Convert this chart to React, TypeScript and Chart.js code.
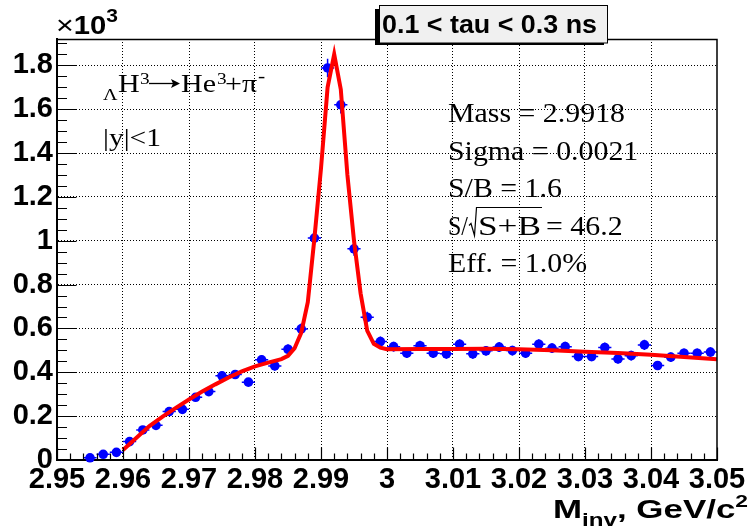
import React, { useEffect, useRef } from 'react';
import { Chart, registerables } from 'chart.js';

Chart.register(...registerables);

// Bin centres (GeV/c^2) and counts (x10^3)
const binCenters = [
  2.955, 2.957, 2.959, 2.961, 2.963, 2.965, 2.967, 2.969, 2.971, 2.973,
  2.975, 2.977, 2.979, 2.981, 2.983, 2.985, 2.987, 2.989, 2.991, 2.993,
  2.995, 2.997, 2.999, 3.001, 3.003, 3.005, 3.007, 3.009, 3.011, 3.013,
  3.015, 3.017, 3.019, 3.021, 3.023, 3.025, 3.027, 3.029, 3.031, 3.033,
  3.035, 3.037, 3.039, 3.041, 3.043, 3.045, 3.047, 3.049,
];
const counts = [
  0.010, 0.026, 0.035, 0.084, 0.137, 0.158, 0.221, 0.231, 0.286, 0.312,
  0.384, 0.390, 0.355, 0.457, 0.429, 0.505, 0.598, 1.012, 1.788, 1.620,
  0.963, 0.651, 0.540, 0.517, 0.487, 0.521, 0.487, 0.484, 0.528, 0.484,
  0.498, 0.515, 0.499, 0.487, 0.528, 0.510, 0.517, 0.472, 0.472, 0.513,
  0.461, 0.476, 0.525, 0.431, 0.469, 0.487, 0.487, 0.492,
];

// Fit curve
const fitX = [
  2.960, 2.962, 2.964, 2.966, 2.968, 2.970, 2.972, 2.974, 2.976, 2.978,
  2.980, 2.982, 2.984, 2.985, 2.986, 2.987, 2.988, 2.989, 2.990, 2.991,
  2.992, 2.993, 2.994, 2.995, 2.996, 2.997, 2.998, 2.999, 3.000, 3.005,
  3.010, 3.015, 3.020, 3.025, 3.030, 3.035, 3.040, 3.045, 3.050,
];
const fitY = [
  0.046, 0.100, 0.155, 0.198, 0.238, 0.276, 0.312, 0.345, 0.376, 0.404,
  0.427, 0.444, 0.460, 0.475, 0.510, 0.580, 0.720, 1.010, 1.330, 1.700,
  1.850, 1.690, 1.300, 1.000, 0.760, 0.590, 0.530, 0.512, 0.505, 0.506,
  0.506, 0.507, 0.505, 0.500, 0.494, 0.488, 0.480, 0.470, 0.460,
];

const xTickValues = [2.95, 2.96, 2.97, 2.98, 2.99, 3.0, 3.01, 3.02, 3.03, 3.04, 3.05];
const xTickLabels = ['2.95', '2.96', '2.97', '2.98', '2.99', '3', '3.01', '3.02', '3.03', '3.04', '3.05'];
const yTickValues = [0, 0.2, 0.4, 0.6, 0.8, 1.0, 1.2, 1.4, 1.6, 1.8];
const yTickLabels = ['0', '0.2', '0.4', '0.6', '0.8', '1', '1.2', '1.4', '1.6', '1.8'];

const titleText = '0.1 < tau < 0.3 ns';
const statsLines = ['Mass = 2.9918', 'Sigma = 0.0021', 'S/B = 1.6', 'S/\u221AS+B = 46.2', 'Eff. = 1.0%'];
const rangeText = '|y|<1';

const X_MIN = 2.95;
const X_MAX = 3.05;
const Y_MIN = 0;
const Y_MAX = 1.92;

const SANS = '"Liberation Sans", Arial, Helvetica, sans-serif';
const SERIF = '"Liberation Serif", "Times New Roman", serif';

function drawStretched(ctx: CanvasRenderingContext2D, text: string, x: number, y: number, font: string, sx: number) {
  ctx.save();
  ctx.font = font;
  ctx.textAlign = 'left';
  ctx.textBaseline = 'alphabetic';
  ctx.translate(x, y);
  ctx.scale(sx, 1);
  ctx.fillText(text, 0, 0);
  ctx.restore();
  ctx.font = font;
  return ctx.measureText(text).width * sx;
}

const errorBarsPlugin = {
  id: 'errorBars',
  beforeDatasetsDraw(chart: any) {
    const { ctx } = chart;
    const xs = chart.scales.x;
    const ys = chart.scales.y;
    ctx.save();
    ctx.strokeStyle = '#0000ff';
    ctx.lineWidth = 1.5;
    binCenters.forEach((c, i) => {
      const v = counts[i];
      const err = Math.sqrt(v * 1000) / 1000;
      const px = xs.getPixelForValue(c);
      const py = ys.getPixelForValue(v);
      ctx.beginPath();
      ctx.moveTo(xs.getPixelForValue(c - 0.001), py);
      ctx.lineTo(xs.getPixelForValue(c + 0.001), py);
      ctx.moveTo(px, ys.getPixelForValue(Math.max(v - err, 0)));
      ctx.lineTo(px, ys.getPixelForValue(v + err));
      ctx.stroke();
    });
    ctx.restore();
  },
};

const decorPlugin = {
  id: 'decor',
  afterDraw(chart: any) {
    const { ctx, chartArea } = chart;
    const { left, right, top, bottom } = chartArea;
    const xs = chart.scales.x;
    const ys = chart.scales.y;
    ctx.save();

    // frame top & right
    ctx.strokeStyle = '#000';
    ctx.lineWidth = 1.5;
    ctx.beginPath();
    ctx.moveTo(left, top + 0.5);
    ctx.lineTo(right, top + 0.5);
    ctx.lineTo(right, bottom);
    ctx.stroke();

    // inner ticks x
    ctx.lineWidth = 1.2;
    ctx.beginPath();
    for (let i = 0; i <= 50; i++) {
      const v = X_MIN + i * 0.002;
      const px = Math.round(xs.getPixelForValue(v)) + 0.5;
      const len = i % 5 === 0 ? 12.5 : 6.5;
      ctx.moveTo(px, bottom);
      ctx.lineTo(px, bottom - len);
    }
    // inner ticks y
    for (let j = 0; j <= 38; j++) {
      const v = j * 0.05;
      const py = Math.round(ys.getPixelForValue(v)) + 0.5;
      const len = j % 4 === 0 ? 19.5 : 10;
      ctx.moveTo(left, py);
      ctx.lineTo(left + len, py);
    }
    ctx.stroke();

    // x10^3
    ctx.fillStyle = '#000';
    {
      const parts = [
        { t: '\u00D7', f: `26px ${SANS}`, dy: 0 },
        { t: '10', f: `bold 25px ${SANS}`, dy: 0 },
        { t: '3', f: `bold 18px ${SANS}`, dy: -12 },
      ];
      let tw = 0;
      parts.forEach((p) => { ctx.font = p.f; tw += ctx.measureText(p.t).width; });
      const sx = 62 / tw;
      let x = 56;
      parts.forEach((p) => { x += drawStretched(ctx, p.t, x, 34 + p.dy, p.f, sx); });
    }

    // axis title
    {
      const parts = [
        { t: 'M', f: `bold 26px ${SANS}`, dy: 0 },
        { t: 'inv', f: `bold 18px ${SANS}`, dy: 8 },
        { t: ', GeV/c', f: `bold 26px ${SANS}`, dy: 0 },
        { t: '2', f: `bold 17px ${SANS}`, dy: -11 },
      ];
      let tw = 0;
      parts.forEach((p) => { ctx.font = p.f; tw += ctx.measureText(p.t).width; });
      const sx = 195 / tw;
      let x = 553;
      parts.forEach((p) => { x += drawStretched(ctx, p.t, x, 518 + p.dy, p.f, sx); });
    }

    // title box
    {
      ctx.fillStyle = '#000';
      ctx.fillRect(375, 9, 4, 36);
      ctx.fillRect(375, 43, 229, 2);
      ctx.fillStyle = '#f0f0f0';
      ctx.fillRect(379, 5, 229, 38);
      ctx.strokeStyle = '#000';
      ctx.lineWidth = 1;
      ctx.strokeRect(379.5, 5.5, 228, 37.5);
      ctx.fillStyle = '#000';
      const f = `bold 25px ${SANS}`;
      ctx.font = f;
      const w = ctx.measureText(titleText).width;
      drawStretched(ctx, titleText, 382, 33, f, 215 / w);
    }

    // decay formula
    {
      const sx = 1.2;
      const big = `25px ${SERIF}`;
      const small = `16px ${SERIF}`;
      drawStretched(ctx, '\u039B', 103, 100, `17px ${SERIF}`, 1.18);
      drawStretched(ctx, 'H', 118, 92, big, sx);
      drawStretched(ctx, '3', 140, 84, small, sx);
      // arrow
      ctx.strokeStyle = '#000';
      ctx.lineWidth = 1.3;
      ctx.beginPath();
      ctx.moveTo(149, 83.5);
      ctx.lineTo(174, 83.5);
      ctx.stroke();
      ctx.beginPath();
      ctx.moveTo(180, 83.5);
      ctx.lineTo(171, 79);
      ctx.lineTo(173, 83.5);
      ctx.lineTo(171, 88);
      ctx.closePath();
      ctx.fill();
      drawStretched(ctx, 'He', 181, 92, big, sx);
      drawStretched(ctx, '3', 217, 84, small, sx);
      const wp = drawStretched(ctx, '+\u03C0', 225, 92, big, sx);
      drawStretched(ctx, '-', 225 + wp + 1, 82, `18px ${SERIF}`, sx);
      drawStretched(ctx, rangeText, 103, 146, big, 1.18);
    }

    // stats
    {
      const f = `28px ${SERIF}`;
      ctx.font = f;
      const sx = 177 / ctx.measureText(statsLines[0]).width;
      const base = [122, 159.5, 197, 234.5, 272];
      drawStretched(ctx, statsLines[0], 448, base[0], f, sx);
      drawStretched(ctx, statsLines[1], 448, base[1], f, sx);
      drawStretched(ctx, statsLines[2], 448, base[2], f, sx);
      // S/sqrt(S+B)
      ctx.font = f;
      const wsl = ctx.measureText('S/').width;
      drawStretched(ctx, 'S/', 448, base[3], f, 20 / wsl);
      const wsb = ctx.measureText('S+B').width;
      drawStretched(ctx, 'S+B', 478, base[3], f, 63 / wsb);
      drawStretched(ctx, '= 46.2', 546, base[3], f, sx);
      ctx.strokeStyle = '#000';
      ctx.lineWidth = 1.2;
      ctx.beginPath();
      ctx.moveTo(469, base[3] - 9);
      ctx.lineTo(471, base[3] - 11);
      ctx.lineTo(474.5, base[3] + 1);
      ctx.lineTo(476.5, base[3] - 27);
      ctx.lineTo(542, base[3] - 27);
      ctx.stroke();
      drawStretched(ctx, statsLines[4], 448, base[4], f, sx);
    }

    ctx.restore();
  },
};

export default function App() {
  const ref = useRef<HTMLCanvasElement | null>(null);

  useEffect(() => {
    if (!ref.current) return;
    const chart = new Chart(ref.current, {
      type: 'scatter',
      data: {
        datasets: [
          {
            type: 'line',
            data: fitX.map((x, i) => ({ x, y: fitY[i] })),
            borderColor: '#ff0000',
            borderWidth: 4,
            pointRadius: 0,
            tension: 0,
            fill: false,
            order: 0,
          } as any,
          {
            type: 'scatter',
            data: binCenters.map((x, i) => ({ x, y: counts[i] })),
            backgroundColor: '#0000ff',
            borderWidth: 0,
            pointRadius: 4.8,
            order: 1,
            clip: false,
          } as any,
        ],
      },
      options: {
        animation: false,
        responsive: false,
        devicePixelRatio: 1,
        layout: { padding: { left: 0, top: 39, right: 33, bottom: 0 } },
        plugins: { legend: { display: false }, tooltip: { enabled: false }, title: { display: false } },
        scales: {
          x: {
            type: 'linear',
            min: X_MIN,
            max: X_MAX,
            afterBuildTicks: (s: any) => { s.ticks = xTickValues.map((v) => ({ value: v })); },
            afterFit: (s: any) => { s.height = 72; s.paddingLeft = 0; s.paddingRight = 0; },
            ticks: {
              autoSkip: false,
              maxRotation: 0,
              minRotation: 0,
              padding: 3,
              color: '#000',
              font: { family: SANS, weight: 'bold', size: 29 },
              callback: (_v: any, i: number) => xTickLabels[i],
            },
            grid: {
              drawTicks: false,
              lineWidth: 1,
              color: (c: any) => (c.index === 0 || c.index === xTickValues.length - 1 ? 'rgba(0,0,0,0)' : '#000'),
            },
            border: { display: true, color: '#000', width: 2, dash: [1, 2] },
          },
          y: {
            type: 'linear',
            min: Y_MIN,
            max: Y_MAX,
            afterBuildTicks: (s: any) => { s.ticks = yTickValues.map((v) => ({ value: v })); },
            afterFit: (s: any) => { s.width = 57; s.paddingTop = 0; s.paddingBottom = 0; },
            ticks: {
              autoSkip: false,
              padding: 4,
              color: '#000',
              font: { family: SANS, weight: 'bold', size: 29 },
              callback: (_v: any, i: number) => yTickLabels[i],
            },
            grid: {
              drawTicks: false,
              lineWidth: 1,
              color: (c: any) => (c.index === 0 ? 'rgba(0,0,0,0)' : '#000'),
            },
            border: { display: true, color: '#000', width: 2, dash: [1, 2] },
          },
        },
      } as any,
      plugins: [errorBarsPlugin, decorPlugin],
    });
    return () => chart.destroy();
  }, []);

  return (
    <div style={{ position: 'absolute', left: 0, top: 0, width: 750, height: 532, background: '#fff' }}>
      <canvas ref={ref} width={750} height={532} style={{ display: 'block' }} />
    </div>
  );
}
